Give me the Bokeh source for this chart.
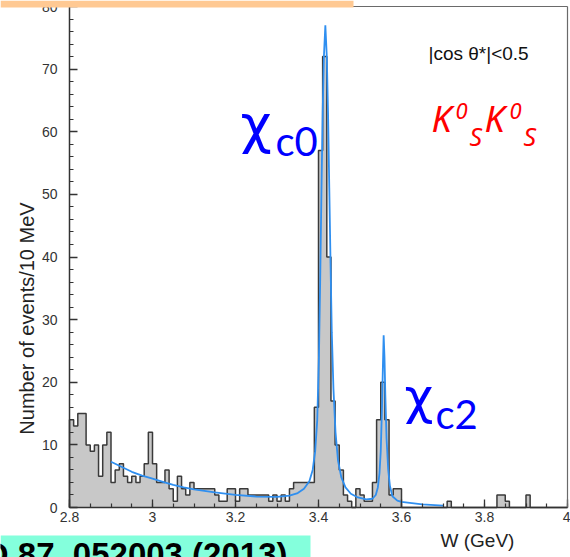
import numpy as np
from bokeh.plotting import figure
from bokeh.models import (Label, BoxAnnotation, Range1d, SingleIntervalTicker,
                          CustomJSTickFormatter, LinearAxis)
from bokeh.embed import file_html
from bokeh.resources import INLINE

# ---------------- data ----------------
bin_start = 2.80   # GeV
bin_width = 0.01   # GeV  (10 MeV bins)
counts = [
    14, 13, 15, 15, 10, 9, 10, 5, 10, 12,    # 2.80-2.89
    4, 6, 7, 5, 4, 5, 4, 5, 7, 12,           # 2.90-2.99
    7, 4, 4, 6, 3, 1, 5, 3, 2, 4,            # 3.00-3.09
    3, 3, 3, 3, 3, 2, 1, 1, 3, 3,            # 3.10-3.19
    1, 3, 3, 2, 2, 2, 2, 2, 1, 2,            # 3.20-3.29
    1, 2, 1, 3, 4, 4, 4, 4, 4, 16,           # 3.30-3.39
    57, 72, 40, 17, 10, 6, 2, 1, 0, 3,       # 3.40-3.49
    2, 1, 1, 4, 14, 20, 14, 2, 3, 3,         # 3.50-3.59
    0, 0, 0, 0, 0, 0, 0, 0, 0, 0,            # 3.60-3.69
    0, 1, 0, 0, 0, 0, 0, 0, 0, 0,            # 3.70-3.79
    0, 0, 0, 2, 2, 1, 0, 0, 0, 0,            # 3.80-3.89
    2, 0, 0, 0, 0, 0, 0, 0, 0, 0,            # 3.90-3.99
]

fit_w = [2.900, 2.925, 2.950, 2.975, 3.000, 3.025, 3.050, 3.075, 3.100, 3.150,
         3.200, 3.250, 3.300, 3.330, 3.350, 3.365, 3.378, 3.386, 3.392, 3.397,
         3.401, 3.404, 3.407, 3.410, 3.413, 3.4165, 3.420, 3.423, 3.426, 3.429,
         3.432, 3.436, 3.441, 3.447, 3.455, 3.465, 3.478, 3.495, 3.515, 3.530,
         3.538, 3.543, 3.547, 3.550, 3.553, 3.555, 3.557, 3.559, 3.561, 3.564,
         3.568, 3.572, 3.578, 3.590, 3.600, 3.650, 3.700]
fit_n = [7.3, 6.5, 5.7, 5.1, 4.6, 4.1, 3.6, 3.2, 2.9, 2.4,
         2.0, 1.75, 1.7, 1.9, 2.3, 3.0, 4.2, 6.0, 9.0, 14,
         24, 36, 50, 63, 72, 77, 72, 63, 51, 39,
         28, 19, 12, 7.5, 4.8, 3.2, 2.2, 1.6, 1.3, 1.4,
         2.0, 3.2, 5.5, 9, 16, 22, 27.5, 24, 18, 11,
         6, 3.5, 1.8, 1.1, 0.9, 0.5, 0.3]

x_lo, x_hi = 2.8, 4.0
y_lo, y_hi = 0, 80

# ---------------- layout constants (canvas pixels) ----------------
W, H = 570, 557
AX_LEFT, AX_RIGHT = 69, 567      # canvas x of x_lo / x_hi
AX_TOP, AX_BOTTOM = 6, 507       # canvas y of y_hi / y_lo
kx = (AX_RIGHT - AX_LEFT) / (x_hi - x_lo)
ky = (AX_BOTTOM - AX_TOP) / (y_hi - y_lo)
xr = Range1d(x_lo - AX_LEFT / kx, x_lo + (W - AX_LEFT) / kx)
yr = Range1d(y_lo - (H - AX_BOTTOM) / ky, y_hi + AX_TOP / ky)


def sx(px):
    return px


def sy(py):
    return H - py


p = figure(width=W, height=H, output_backend="svg", toolbar_location=None,
           x_range=xr, y_range=yr, x_axis_location=None, y_axis_location=None,
           min_border=0)
p.title.visible = False
p.background_fill_color = "white"
p.border_fill_color = "white"
p.outline_line_color = None
p.xgrid.visible = False
p.ygrid.visible = False

# ---------------- histogram ----------------
edges = bin_start + bin_width * np.arange(len(counts) + 1)
hx, hy = [edges[0]], [0]
for i, c in enumerate(counts):
    hx += [edges[i], edges[i + 1]]
    hy += [c, c]
hx.append(edges[-1])
hy.append(0)

p.patch(hx, hy, fill_color="#c8c8c8", line_color=None)
p.line(hx, hy, line_color="#3a3a3a", line_width=1.5)

# ---------------- fit curve ----------------
p.line(fit_w, fit_n, line_color="#2f8ff0", line_width=1.8)

# ---------------- axes ----------------
xaxis = LinearAxis(fixed_location=y_lo, bounds=(x_lo, x_hi),
                   ticker=SingleIntervalTicker(interval=0.2, num_minor_ticks=4),
                   formatter=CustomJSTickFormatter(
                       code="return Number(tick.toFixed(2)).toString();"),
                   major_label_standoff=4)
yaxis = LinearAxis(fixed_location=x_lo, bounds=(y_lo, y_hi),
                   ticker=SingleIntervalTicker(interval=10, num_minor_ticks=5),
                   major_label_standoff=12)
for ax in (xaxis, yaxis):
    ax.axis_line_color = "#333333"
    ax.axis_line_width = 1.5
    ax.major_tick_line_color = "#333333"
    ax.minor_tick_line_color = "#333333"
    ax.major_tick_line_width = 1.3
    ax.minor_tick_line_width = 1.2
    ax.major_tick_in = 8
    ax.major_tick_out = 0
    ax.minor_tick_in = 4
    ax.minor_tick_out = 0
    ax.major_label_text_font = "Liberation Sans"
    ax.major_label_text_font_size = "14px"
    ax.major_label_text_color = "#333333"
p.add_layout(xaxis, "below")
p.add_layout(yaxis, "left")

# frame lines (top / right) as plain axes without ticks
topax = LinearAxis(fixed_location=y_hi, bounds=(x_lo, x_hi))
rightax = LinearAxis(fixed_location=x_hi, bounds=(y_lo, y_hi))
for ax in (topax, rightax):
    ax.axis_line_color = "#6a6a6a"
    ax.axis_line_width = 1.2
    ax.major_tick_line_color = None
    ax.minor_tick_line_color = None
    ax.major_label_text_font_size = "0px"
    ax.major_label_text_color = None
p.add_layout(topax, "above")
p.add_layout(rightax, "right")

# ---------------- overlays from the slide ----------------
p.add_layout(BoxAnnotation(left=sx(0), right=sx(353), top=sy(0), bottom=sy(7),
                           left_units="screen", right_units="screen",
                           top_units="screen", bottom_units="screen",
                           fill_color="#ffc993", fill_alpha=1.0, line_color=None))
p.add_layout(BoxAnnotation(left=sx(0), right=sx(310), top=sy(535), bottom=sy(557),
                           left_units="screen", right_units="screen",
                           top_units="screen", bottom_units="screen",
                           fill_color="#84ffdc", fill_alpha=1.0, line_color=None))

SHIFT = 0.42   # baseline correction (fraction of font size)


def lab(text, x, y, size, color="#222222", font="Liberation Sans", style="normal",
        align="left", baseline="alphabetic", angle=0.0):
    yy = y - SHIFT * size if baseline == "alphabetic" else y
    p.add_layout(Label(x=sx(x), y=sy(yy), x_units="screen", y_units="screen",
                       text=text, text_font=font, text_font_size=f"{size}px",
                       text_font_style=style, text_color=color,
                       text_align=align, text_baseline=baseline, angle=angle))


lab("PRD 87, 052003 (2013)", 287, 568, 33, color="#000000", style="bold",
    align="right")

# axis titles
lab("Number of events/10 MeV", 26, 318, 20, align="center",
    baseline="middle", angle=np.pi / 2)
lab("W (GeV)", 440, 548, 19)

# annotations
lab("|cos \u03b8*|<0.5", 428, 61, 19, color="#111111")

lab("\u03c7", 240, 147, 54, color="#0000ff", font="DejaVu Sans")
lab("c0", 275, 157, 40, color="#0000ff", font="Lato")
lab("\u03c7", 404, 417, 50, color="#0000ff", font="DejaVu Sans")
lab("c2", 435, 430, 40, color="#0000ff", font="Lato")

red = "#ff0000"
lab("K", 431, 133, 36, color=red, font="Noto Sans", style="italic")
lab("0", 455, 120, 22, color=red, font="Noto Sans", style="italic")
lab("S", 469, 146, 25, color=red, font="Noto Sans", style="italic")
lab("K", 484, 133, 36, color=red, font="Noto Sans", style="italic")
lab("0", 509, 120, 22, color=red, font="Noto Sans", style="italic")
lab("S", 523, 146, 25, color=red, font="Noto Sans", style="italic")

open("out.html", "w").write(file_html(p, INLINE))
